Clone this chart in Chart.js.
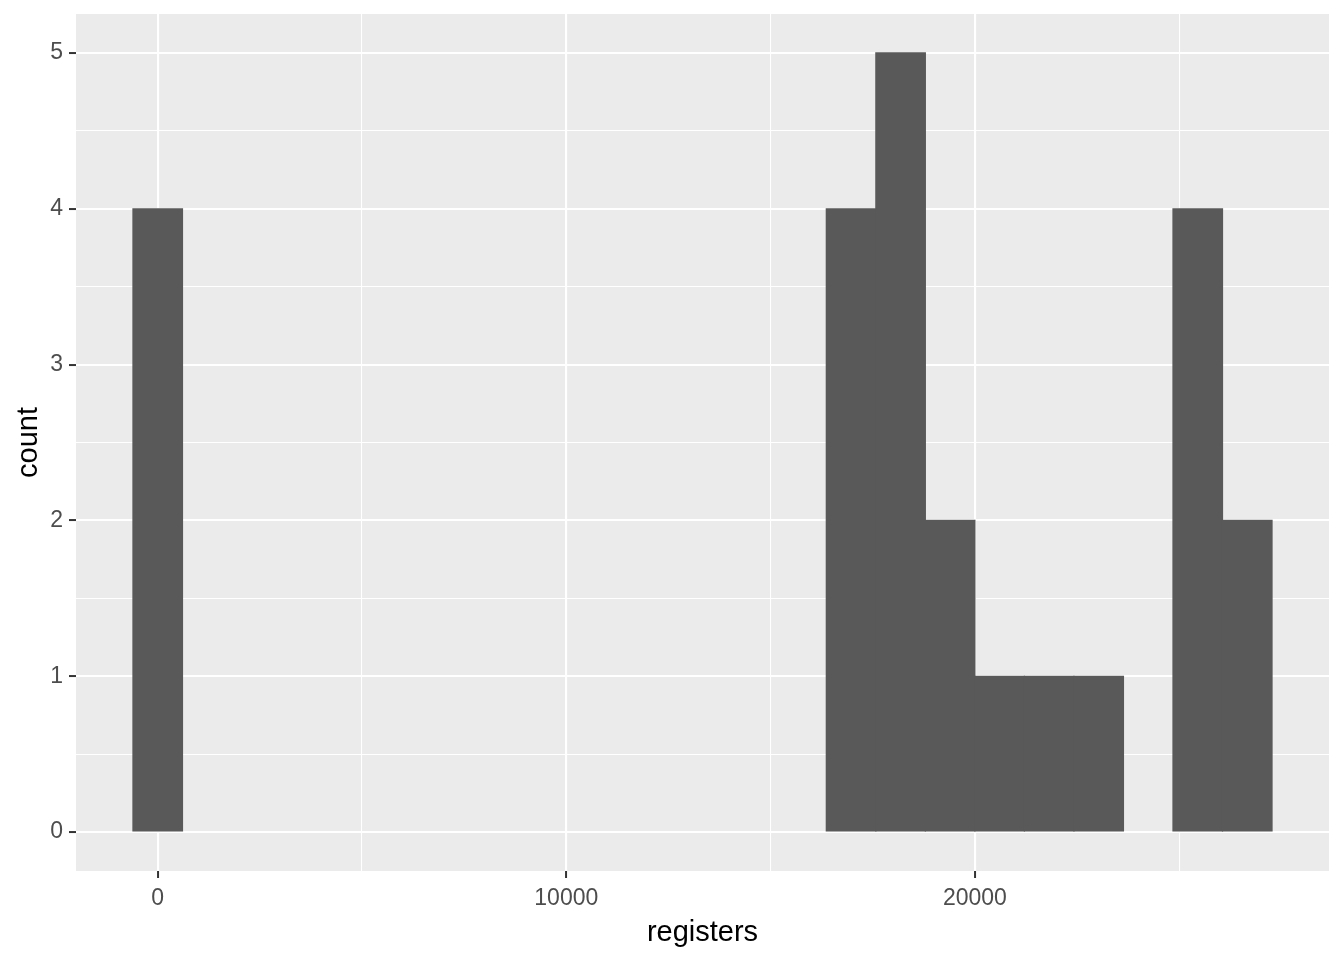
<!DOCTYPE html>
<html>
<head>
<meta charset="utf-8">
<script src="https://cdn.jsdelivr.net/npm/chart.js@4/dist/chart.umd.min.js"></script>
<style>
  html, body { margin: 0; padding: 0; background: #ffffff; }
  canvas { display: block; }
</style>
</head>
<body>
<canvas id="c" width="1344" height="960"></canvas>
<script>
// Histogram bins (centres of non-empty bins, bin width ~1212) and counts
const binCenters = [0, 16969.70, 18181.82, 19393.94, 20606.06, 21818.18, 23030.30, 25454.55, 26666.67];
const binCounts  = [4, 4, 5, 2, 1, 1, 1, 4, 2];

// Axis ticks / grid positions
const xTickValues = [0, 5000, 10000, 15000, 20000, 25000];
const xLabelValues = [0, 10000, 20000];
const yTickValues = [0, 0.5, 1, 1.5, 2, 2.5, 3, 3.5, 4, 4.5, 5];
const yLabelValues = [0, 1, 2, 3, 4, 5];

const xRange = [-2000, 28667];
const yRange = [-0.25, 5.25];

const xTitle = 'registers';
const yTitle = 'count';

const FONT = '"Liberation Sans", Arial, sans-serif';

const isMajor = (c, list) => !!(c && c.tick && list.includes(c.tick.value));

const panelBg = {
  id: 'panelBg',
  beforeDraw(chart) {
    const {ctx, chartArea: a} = chart;
    ctx.save();
    ctx.fillStyle = '#ffffff';
    ctx.fillRect(0, 0, chart.width, chart.height);
    ctx.fillStyle = '#EBEBEB';
    ctx.fillRect(a.left, a.top, a.right - a.left, a.bottom - a.top);
    ctx.restore();
  }
};

const points = binCenters.map((x, i) => ({x: x, y: binCounts[i]}));

new Chart(document.getElementById('c'), {
  type: 'bar',
  data: {
    datasets: [{
      data: points,
      backgroundColor: '#595959',
      borderWidth: 0,
      inflateAmount: 0.6,
      barPercentage: 1.0,
      categoryPercentage: 1.0
    }]
  },
  options: {
    responsive: false,
    animation: false,
    events: [],
    layout: { padding: { top: 14, right: 15, left: 0, bottom: 0 } },
    plugins: { legend: { display: false }, tooltip: { enabled: false } },
    scales: {
      x: {
        type: 'linear',
        offset: false,
        min: xRange[0],
        max: xRange[1],
        afterBuildTicks(axis) { axis.ticks = xTickValues.map(v => ({value: v})); },
        afterFit(axis) { axis.height = 89; },
        border: { display: false },
        grid: {
          offset: false,
          color: '#ffffff',
          lineWidth: c => (isMajor(c, xLabelValues) ? 2.1 : 1.07),
          drawTicks: true,
          tickLength: 7,
          tickWidth: 2,
          tickColor: c => (isMajor(c, xLabelValues) ? '#333333' : 'rgba(0,0,0,0)')
        },
        ticks: {
          autoSkip: false,
          maxRotation: 0,
          padding: 7,
          color: '#4D4D4D',
          font: { family: FONT, size: 23 },
          callback: v => (xLabelValues.includes(v) ? String(v) : '')
        },
        title: {
          display: true,
          text: xTitle,
          color: '#000000',
          font: { family: FONT, size: 29, lineHeight: 1.2 },
          padding: { top: 0, bottom: 10 }
        }
      },
      y: {
        type: 'linear',
        min: yRange[0],
        max: yRange[1],
        afterBuildTicks(axis) { axis.ticks = yTickValues.map(v => ({value: v})); },
        afterFit(axis) { axis.width = 76; },
        border: { display: false },
        grid: {
          color: '#ffffff',
          lineWidth: c => (isMajor(c, yLabelValues) ? 2.1 : 1.07),
          drawTicks: true,
          tickLength: 7,
          tickWidth: 2,
          tickColor: c => (isMajor(c, yLabelValues) ? '#333333' : 'rgba(0,0,0,0)')
        },
        ticks: {
          autoSkip: false,
          padding: 6,
          color: '#4D4D4D',
          font: { family: FONT, size: 23, lineHeight: 0.5 },
          callback: v => (yLabelValues.includes(v) ? String(v) : '')
        },
        title: {
          display: true,
          text: yTitle,
          color: '#000000',
          font: { family: FONT, size: 29, lineHeight: 1.2 },
          padding: { top: 12, bottom: 0 }
        }
      }
    }
  },
  plugins: [panelBg]
});
</script>
</body>
</html>
